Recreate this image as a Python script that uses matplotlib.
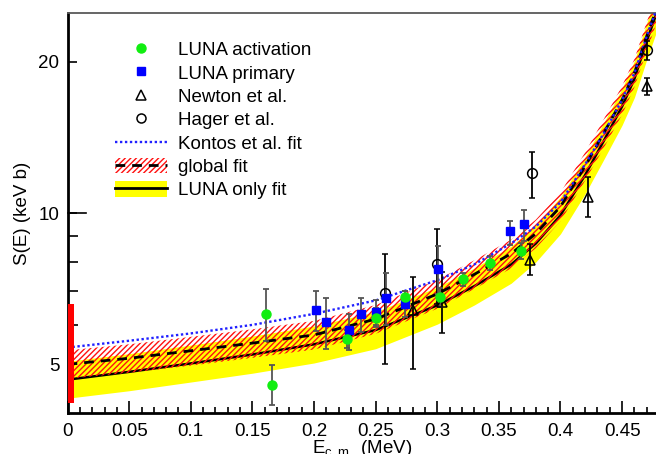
import numpy as np
import matplotlib.pyplot as plt
import matplotlib.transforms as mtransforms
from matplotlib.lines import Line2D
from matplotlib.patches import Patch

plt.rcParams['font.family'] = ['Liberation Sans', 'DejaVu Sans']
plt.rcParams['mathtext.default'] = 'regular'
plt.rcParams['hatch.linewidth'] = 1.0

# Fit curves
e_fit = [0, 0.05, 0.1, 0.15, 0.2, 0.25, 0.3, 0.33, 0.36, 0.38, 0.40, 0.42, 0.435, 0.45, 0.46, 0.47, 0.4775]
global_fit = [5.00, 5.14, 5.32, 5.51, 5.72, 6.15, 6.90, 7.55, 8.30, 9.10, 10.3, 12.4, 14.4, 16.8, 19.0, 22.5, 25.3]
global_lo = [4.68, 4.81, 4.97, 5.15, 5.35, 5.75, 6.45, 7.06, 7.76, 8.51, 9.63, 11.6, 13.46, 15.7, 17.8, 21.0, 23.7]
global_hi = [5.33, 5.48, 5.67, 5.87, 6.10, 6.56, 7.36, 8.05, 8.85, 9.70, 10.98, 13.2, 15.35, 17.9, 20.25, 24.0, 27.0]
luna_fit = [4.66, 4.83, 5.02, 5.23, 5.48, 5.85, 6.55, 7.15, 7.90, 8.70, 9.90, 11.9, 13.9, 16.3, 18.5, 22.0, 24.8]
luna_lo = [4.28, 4.43, 4.61, 4.80, 5.03, 5.37, 6.01, 6.56, 7.25, 7.99, 9.09, 10.92, 12.76, 14.96, 16.98, 20.2, 22.8]
luna_hi = [5.07, 5.25, 5.46, 5.69, 5.96, 6.36, 7.12, 7.77, 8.59, 9.46, 10.76, 12.94, 15.1, 17.7, 20.1, 23.9, 27.0]
kontos_fit = [5.40, 5.57, 5.76, 5.99, 6.30, 6.70, 7.35, 7.90, 8.70, 9.40, 10.5, 12.5, 14.4, 16.8, 19.0, 22.5, 25.3]

# S(0) range bar
s0_e = [0.0, 0.005]
s0_range = [4.18, 6.59]

# LUNA activation
act_e = [0.161, 0.166, 0.227, 0.250, 0.274, 0.302, 0.321, 0.343, 0.368]
act_s = [6.31, 4.55, 5.61, 6.18, 6.81, 6.81, 7.38, 7.94, 8.40]
act_hi = [7.06, 4.98, 5.85, 6.46, 7.00, 7.10, 7.60, 8.20, 8.70]
act_lo = [5.56, 4.15, 5.40, 5.93, 6.50, 6.50, 7.15, 7.70, 8.10]

# LUNA primary
pri_e = [0.202, 0.210, 0.228, 0.238, 0.250, 0.258, 0.274, 0.301, 0.359, 0.370]
pri_s = [6.40, 6.07, 5.84, 6.31, 6.36, 6.79, 6.60, 7.75, 9.19, 9.53]
pri_hi = [6.99, 6.77, 6.31, 6.77, 6.70, 7.60, 7.00, 8.60, 9.66, 10.15]
pri_lo = [5.82, 5.37, 5.35, 5.80, 6.00, 6.00, 6.20, 6.90, 8.63, 8.80]

# Newton et al.
new_e = [0.280, 0.304, 0.375, 0.4225, 0.470]
new_s = [6.40, 6.65, 8.07, 10.77, 17.9]
new_hi = [7.45, 7.62, 8.68, 11.8, 18.6]
new_lo = [4.90, 5.76, 7.53, 9.83, 17.2]

# Hager et al.
hag_e = [0.2576, 0.300, 0.377, 0.470]
hag_s = [6.92, 7.90, 12.0, 21.1]
hag_hi = [8.30, 9.30, 13.2, 22.0]
hag_lo = [5.00, 6.60, 10.7, 20.2]


def yerr(s, lo, hi):
    s = np.array(s)
    return [s - np.array(lo), np.array(hi) - s]


fig = plt.figure(figsize=(6.56, 4.54), dpi=100)
ax = fig.add_axes([0.103, 0.0903, 0.897, 0.881])
ax.set_yscale('log')

ax.fill_between(e_fit, luna_lo, luna_hi, color='#ffff00', lw=0, zorder=1)
ax.plot(e_fit, luna_fit, color='black', lw=1.8, zorder=1.5)
ax.fill_between(e_fit, global_lo, global_hi, facecolor='none', edgecolor='#ff1010',
                hatch='//////', lw=0, zorder=2)
ax.plot(e_fit, global_fit, color='black', lw=2, ls=(0, (3.5, 2.5)), zorder=3)
ax.plot(e_fit, kontos_fit, color='#2020ff', lw=1.7, ls=(0, (1, 1.1)), zorder=3)
ax.fill_between(s0_e, [s0_range[0]] * 2, [s0_range[1]] * 2, color='#ff0000', lw=0, zorder=4)

eb = dict(capsize=2.2, elinewidth=1.3, capthick=1.3, ls='none', zorder=5)
ax.errorbar(hag_e, hag_s, yerr=yerr(hag_s, hag_lo, hag_hi), marker='o', ms=7,
            mfc='none', mec='black', mew=1.1, ecolor='black', **eb)
ax.errorbar(new_e, new_s, yerr=yerr(new_s, new_lo, new_hi), marker='^', ms=7.5,
            mfc='none', mec='black', mew=1.1, ecolor='black', **eb)
ax.errorbar(pri_e, pri_s, yerr=yerr(pri_s, pri_lo, pri_hi), marker='s', ms=6,
            mfc='#0000ff', mec='#0000ff', ecolor='#555555', **eb)
ax.errorbar(act_e, act_s, yerr=yerr(act_s, act_lo, act_hi), marker='o', ms=6.5,
            mfc='#11ee11', mec='#11ee11', ecolor='#555555', **eb)

ax.set_xlim(0, 0.4775)
ax.set_ylim(4, 25)
ax.set_xticks(np.arange(0, 0.46, 0.05))
ax.set_xticklabels(['0', '0.05', '0.1', '0.15', '0.2', '0.25', '0.3', '0.35', '0.4', '0.45'])
ax.set_xticks(np.arange(0, 0.478, 0.01), minor=True)
ax.set_yticks([5, 10, 20])
ax.set_yticklabels(['5', '10', '20'])
ax.set_yticks([6, 7, 8, 9], minor=True)
ax.yaxis.set_minor_formatter(plt.NullFormatter())
ax.tick_params(which='both', direction='in', labelsize=13.5, width=1.2, color='black')
ax.tick_params(axis='x', which='major', length=8.5, pad=7)
ax.tick_params(axis='x', which='minor', length=4.5)
ax.tick_params(axis='y', which='major', length=6.5, pad=6)
ax.tick_params(axis='y', which='minor', length=7)
ax.tick_params(top=False, right=False)
# longer tick at 10
trans = mtransforms.blended_transform_factory(ax.transAxes, ax.transData)
ax.plot([0, 0.031], [10, 10], color='black', lw=1.2, transform=trans, clip_on=False, zorder=6)

for side in ['left', 'bottom']:
    ax.spines[side].set_linewidth(2)
ax.spines['top'].set_color('0.35')
ax.spines['top'].set_linewidth(1.3)
ax.spines['right'].set_visible(False)

ax.set_xlabel('E$_{c.m.}$ (MeV)', fontsize=13.5, labelpad=-1)
ax.set_ylabel('S(E) (keV b)', fontsize=13.5, labelpad=5)

handles = [
    Line2D([], [], ls='none', marker='o', ms=6.5, mfc='#11ee11', mec='#11ee11'),
    Line2D([], [], ls='none', marker='s', ms=6, mfc='#0000ff', mec='#0000ff'),
    Line2D([], [], ls='none', marker='^', ms=7, mfc='none', mec='black', mew=1.1),
    Line2D([], [], ls='none', marker='o', ms=6.5, mfc='none', mec='black', mew=1.1),
    Line2D([], [], color='#2020ff', lw=1.7, ls=(0, (1, 1.1))),
    (Patch(facecolor='none', edgecolor='#ff1010', hatch='//////', lw=0),
     Line2D([], [], color='black', lw=2, ls=(0, (3.5, 2.5)))),
    (Patch(facecolor='#ffff00', lw=0), Line2D([], [], color='black', lw=2)),
]
labels = ['LUNA activation', 'LUNA primary', 'Newton et al.', 'Hager et al.',
          'Kontos et al. fit', 'global fit', 'LUNA only fit']
ax.legend(handles, labels, loc='upper left', bbox_to_anchor=(0.0804, 0.93),
          frameon=False, fontsize=13.5, handlelength=2.77, handleheight=0.88,
          handletextpad=0.58, labelspacing=0.28, borderpad=0, borderaxespad=0)

fig.savefig('out.png', dpi=100)
